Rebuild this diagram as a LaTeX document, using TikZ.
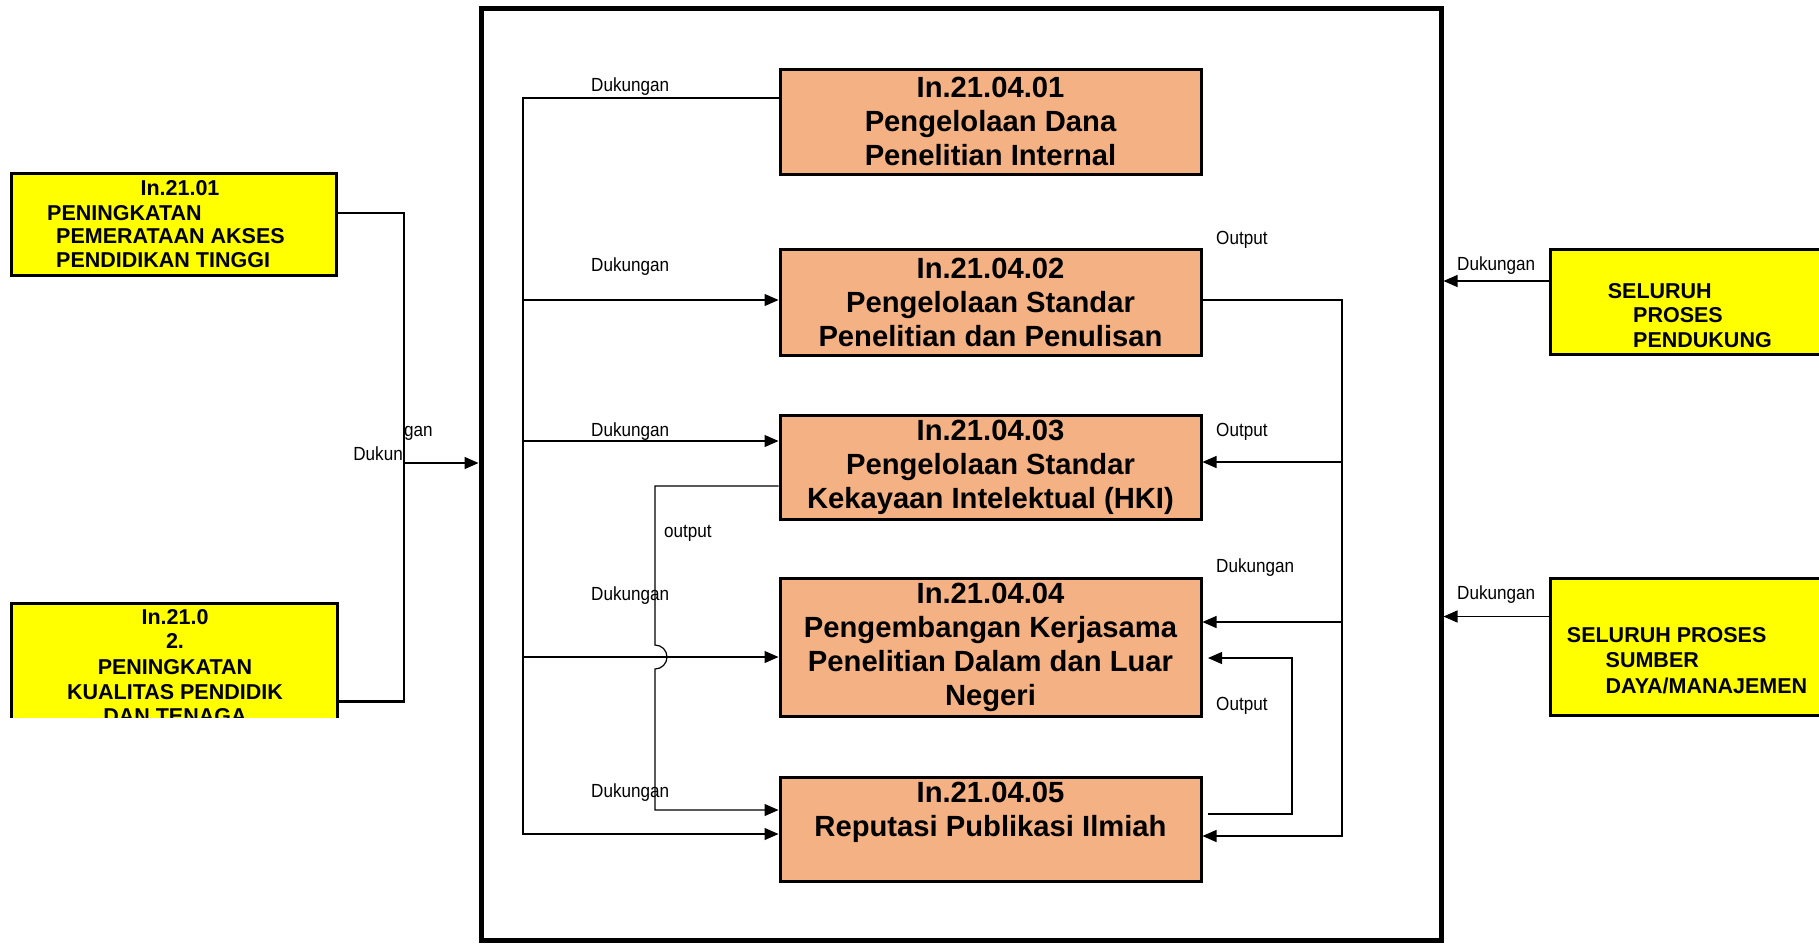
\documentclass[tikz,border=0pt]{standalone}
\usepackage{fontspec}
\setmainfont{Liberation Sans}
\newfontfamily\narrowfont[FakeStretch=0.9]{Liberation Sans}
\usetikzlibrary{arrows.meta}
\definecolor{procfill}{RGB}{244,177,131}
\definecolor{ctxfill}{RGB}{255,255,0}
\begin{document}
\begin{tikzpicture}[x=1pt,y=-1pt,
  procbox/.style={draw, line width=3pt, fill=procfill, inner sep=0pt, minimum width=421pt},
  ctxbox/.style={draw, line width=3pt, fill=ctxfill, inner sep=0pt},
  proctext/.style={font=\fontsize{29.2}{34}\selectfont\bfseries, align=center, inner sep=0pt},
  ctxtext/.style={font=\fontsize{21.5}{24}\selectfont\bfseries, inner sep=0pt, anchor=base west},
  ctxctext/.style={font=\fontsize{21.5}{24}\selectfont\bfseries, inner sep=0pt, anchor=base},
  lbl/.style={font=\narrowfont\fontsize{19}{22}\selectfont, inner sep=0pt, anchor=base west},
  conn/.style={line width=1.2pt},
  arr/.style={conn, -{Triangle[length=14pt,width=12pt]}},
]
\useasboundingbox (0,0) rectangle (1819,943);
\clip (0,0) rectangle (1819,943);

% outer frame of the process
\node[draw, line width=5pt, minimum width=960pt, minimum height=932pt, inner sep=0pt] (frame) at (961,474) {};

% sub-processes
\node[procbox, minimum height=105pt] (b1) at (990.5,121.5)
  [proctext] {In.21.04.01\\Pengelolaan Dana\\Penelitian Internal};
\node[procbox, minimum height=106pt] (b2) at (990.5,302.3)
  [proctext] {In.21.04.02\\Pengelolaan Standar\\Penelitian dan Penulisan};
\node[procbox, minimum height=104pt] (b3) at (990.5,467)
  [proctext] {In.21.04.03\\Pengelolaan Standar\\Kekayaan Intelektual (HKI)};
\node[procbox, minimum height=138.5pt] (b4) at (990.5,647.25)
  [proctext] {In.21.04.04\\Pengembangan Kerjasama\\Penelitian Dalam dan Luar\\Negeri};
\node[procbox, minimum height=104pt] (b5) at (990.5,829) {};
\node[proctext] (b5t) at (990.5,812) {In.21.04.05\\Reputasi Publikasi Ilmiah};

% left context processes
\node[ctxbox, minimum width=325pt, minimum height=102pt] (l1) at (173.5,224) {};
\node[ctxctext] (l1a) at (180,195) {In.21.01};
\node[ctxtext] (l1b) at (47,220) {PENINGKATAN};
\node[ctxtext] (l1c) at (56,243.5) {PEMERATAAN AKSES};
\node[ctxtext] (l1d) at (56,267.5) {PENDIDIKAN TINGGI};

\begin{scope}
  \clip (0,0) rectangle (470,717);
  \node[ctxbox, minimum width=326pt, minimum height=160pt] (l2) at (174,683) {};
  \node[ctxctext] (l2a) at (175,624) {In.21.0};
  \node[ctxctext] (l2b) at (175,648) {2.};
  \node[ctxctext] (l2c) at (175,674) {PENINGKATAN};
  \node[ctxctext] (l2d) at (175,699) {KUALITAS PENDIDIK};
  \node[ctxctext] (l2e) at (175,723) {DAN TENAGA};
\end{scope}

% right context processes
\node[ctxbox, minimum width=290pt, minimum height=105.6pt] (r1) at (1695,301.8) {};
\node[ctxtext] (r1a) at (1607.6,298) {SELURUH};
\node[ctxtext] (r1b) at (1633,322.7) {PROSES};
\node[ctxtext] (r1c) at (1633,347.8) {PENDUKUNG};
\node[ctxbox, minimum width=290pt, minimum height=137.5pt] (r2) at (1695,646.75) {};
\node[ctxtext] (r2a) at (1566.7,642.5) {SELURUH PROSES};
\node[ctxtext] (r2b) at (1605.5,667) {SUMBER};
\node[ctxtext] (r2c) at (1605.5,693) {DAYA/MANAJEMEN};

% left inputs into the frame
\coordinate (lbusTop) at (404,213);
\coordinate (lbusBot) at (404,701);
\coordinate (lin) at (404,463);
\draw[line width=2pt] (l1.east |- lbusTop) -- (lbusTop) -- (lbusBot);
\draw[line width=3pt] (l2.east |- lbusBot) -- ([xshift=1pt]lbusBot);
\draw[arr, line width=1.5pt] (lin) -- (lin -| frame.west);
\node[lbl] (lgan) at (404,436) {gan};
\node[lbl, anchor=base east] (ldukun) at (403,460) {Dukun};

% left support bus
\coordinate (bL1) at (523,98);
\coordinate (bL2) at (523,300);
\coordinate (bL3) at (523,441);
\coordinate (bL4) at (523,657);
\coordinate (bL5) at (523,834);
\draw[arr] (bL1 -| b1.west) -- (bL1) -- (bL5) -- (bL5 -| b5.west);
\draw[arr] (bL2) -- (bL2 -| b2.west);
\draw[arr] (bL3) -- (bL3 -| b3.west);
\draw[arr] (bL4) -- (bL4 -| b4.west);
\node[lbl] (dk1) at (591,91) {Dukungan};
\node[lbl] (dk2) at (591,271) {Dukungan};
\node[lbl] (dk3) at (591,436) {Dukungan};
\node[lbl] (dk4) at (591,600) {Dukungan};
\node[lbl] (dk5) at (591,797) {Dukungan};

% output of In.21.04.03 to In.21.04.05, hopping over the support line
\coordinate (oTop) at (655,486);
\coordinate (oHop) at (655,645);
\coordinate (oBot) at (655,810);
\draw[arr] (oTop -| b3.west) -- (oTop) -- (oHop)
  arc[start angle=90, end angle=-90, radius=12pt] -- (oBot) -- (oBot -| b5.west);
\node[lbl] (outl) at (664,537) {output};

% right output bus
\coordinate (bR2) at (1342,300);
\coordinate (bR3) at (1342,462);
\coordinate (bR4) at (1342,622);
\coordinate (bR5) at (1342,836);
\draw[arr] (bR2 -| b2.east) -- (bR2) -- (bR5) -- (bR5 -| b5.east);
\draw[arr] (bR3) -- (bR3 -| b3.east);
\draw[arr] (bR4) -- (bR4 -| b4.east);

% loop from In.21.04.05 back to In.21.04.04
\coordinate (lpS) at (1208,814);
\coordinate (lpA) at (1292,814);
\coordinate (lpB) at (1292,658);
\coordinate (lpE) at (1208,658);
\draw[arr] (lpS) -- (lpA) -- (lpB) -- (lpE);

\node[lbl] (op2) at (1216,244) {Output};
\node[lbl] (op3) at (1216,436) {Output};
\node[lbl] (dk4r) at (1216,572) {Dukungan};
\node[lbl] (op5) at (1216,710) {Output};

% right inputs into the frame
\coordinate (rin1) at (1548,281);
\coordinate (rin2) at (1548,616.5);
\draw[arr] (r1.west |- rin1) -- (rin1 -| frame.east);
\draw[arr] (r2.west |- rin2) -- (rin2 -| frame.east);
\node[lbl] (dkr1) at (1457,270.5) {Dukungan};
\node[lbl] (dkr2) at (1457,599) {Dukungan};
\end{tikzpicture}
\end{document}
